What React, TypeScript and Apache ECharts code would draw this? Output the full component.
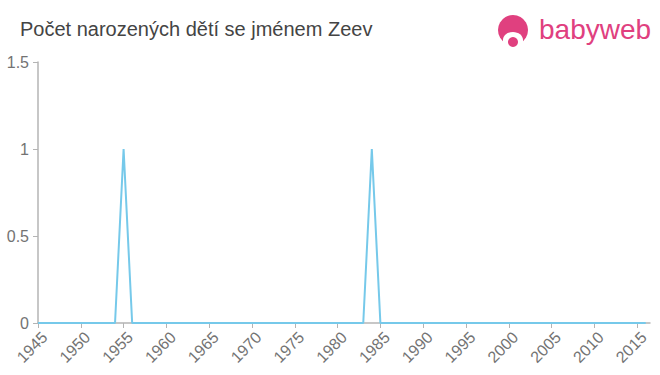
import React, { useEffect, useRef } from "react";
import * as echarts from "echarts";

const titleText = "Počet narozených dětí se jménem Zeev";
const years = [
  1945, 1946, 1947, 1948, 1949, 1950, 1951, 1952, 1953, 1954, 1955, 1956,
  1957, 1958, 1959, 1960, 1961, 1962, 1963, 1964, 1965, 1966, 1967, 1968,
  1969, 1970, 1971, 1972, 1973, 1974, 1975, 1976, 1977, 1978, 1979, 1980,
  1981, 1982, 1983, 1984, 1985, 1986, 1987, 1988, 1989, 1990, 1991, 1992,
  1993, 1994, 1995, 1996, 1997, 1998, 1999, 2000, 2001, 2002, 2003, 2004,
  2005, 2006, 2007, 2008, 2009, 2010, 2011, 2012, 2013, 2014, 2015, 2016,
];
const counts = [
  0, 0, 0, 0, 0, 0, 0, 0, 0, 0, 1, 0,
  0, 0, 0, 0, 0, 0, 0, 0, 0, 0, 0, 0,
  0, 0, 0, 0, 0, 0, 0, 0, 0, 0, 0, 0,
  0, 0, 0, 1, 0, 0, 0, 0, 0, 0, 0, 0,
  0, 0, 0, 0, 0, 0, 0, 0, 0, 0, 0, 0,
  0, 0, 0, 0, 0, 0, 0, 0, 0, 0, 0, 0,
];
const xTickYears = [1945, 1950, 1955, 1960, 1965, 1970, 1975, 1980, 1985, 1990, 1995, 2000, 2005, 2010, 2015];
const yTicks = [0, 0.5, 1, 1.5];

export default function App() {
  const ref = useRef<HTMLDivElement>(null);
  useEffect(() => {
    if (!ref.current) return;
    const chart = echarts.init(ref.current, null, { renderer: "svg" });
    const pink = "#e0407f";
    const axisGray = "#b4b4b4";
    const labelGray = "#737373";
    const font = "Liberation Sans, Arial, sans-serif";
    const staticGraphics: any[] = [
      {
        type: "text",
        left: 20,
        top: 19,
        style: { text: titleText, fill: "#444", fontSize: 20, fontFamily: font },
      },
      {
        type: "group",
        children: [
          { type: "circle", shape: { cx: 513, cy: 30, r: 15 }, style: { fill: pink } },
          { type: "ellipse", shape: { cx: 513, cy: 40, rx: 10, ry: 8 }, style: { fill: "#fff" } },
          { type: "rect", shape: { x: 503, y: 40, width: 20, height: 6 }, style: { fill: "#fff" } },
          { type: "circle", shape: { cx: 513, cy: 42, r: 5 }, style: { fill: pink } },
        ],
      },
      {
        type: "text",
        left: 539,
        top: 15,
        style: { text: "babyweb", fill: pink, fontSize: 28, fontFamily: font },
      },
    ];
    chart.setOption({
      animation: false,
      backgroundColor: "#fff",
      grid: { left: 38, right: 10, top: 62, bottom: 52, outerBoundsMode: "none", containLabel: false },
      xAxis: {
        type: "value",
        min: 1945,
        max: 2016.5,
        interval: 5,
        splitLine: { show: false },
        axisLine: { lineStyle: { color: axisGray, width: 1.5 } },
        axisTick: { show: true, length: 5, lineStyle: { color: axisGray }, customValues: xTickYears },
        axisLabel: { show: false },
      },
      yAxis: {
        type: "value",
        min: 0,
        max: 1.5,
        interval: 0.5,
        splitLine: { show: false },
        axisLine: { show: true, lineStyle: { color: axisGray, width: 1.5 } },
        axisTick: { show: true, length: 5, lineStyle: { color: axisGray }, customValues: yTicks },
        axisLabel: {
          color: labelGray,
          fontSize: 16,
          fontFamily: font,
          margin: 9,
          customValues: yTicks,
        },
      },
      series: [
        {
          type: "line",
          data: years.map((y, i) => [y, counts[i]]),
          showSymbol: false,
          symbol: "none",
          lineStyle: { color: "#76c9ea", width: 2 },
          z: 5,
        },
      ],
      graphic: staticGraphics,
    });
    const yearLabels = xTickYears.map((yr) => {
      const p = chart.convertToPixel({ xAxisIndex: 0, yAxisIndex: 0 }, [yr, 0]) as number[];
      return {
        type: "text",
        x: p[0] + 1,
        y: p[1] + 6,
        rotation: Math.PI / 4,
        style: {
          text: String(yr),
          fill: labelGray,
          fontSize: 16,
          fontFamily: font,
          align: "right",
          verticalAlign: "top",
        },
      };
    });
    chart.setOption({ graphic: [...staticGraphics, ...yearLabels] });
    return () => chart.dispose();
  }, []);
  return <div ref={ref} style={{ width: 660, height: 375, position: "absolute", left: 0, top: 0 }} />;
}
